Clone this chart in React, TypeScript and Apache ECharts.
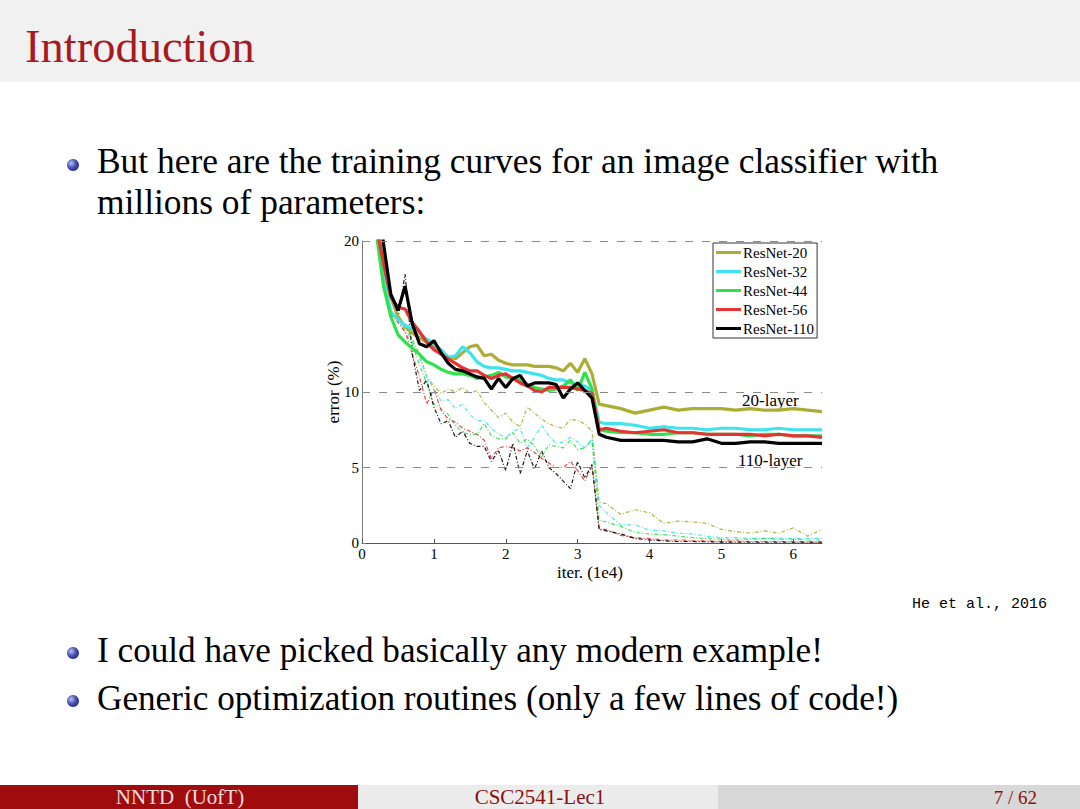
import React, { useEffect, useRef } from "react";
import * as echarts from "echarts";

// iterations (1e4)
const iters = [
  0.1, 0.2, 0.3, 0.4, 0.5, 0.6, 0.7, 0.8, 0.9, 1.0,
  1.1, 1.2, 1.3, 1.4, 1.5, 1.6, 1.7, 1.8, 1.9, 2.0,
  2.1, 2.2, 2.3, 2.4, 2.5, 2.6, 2.7, 2.8, 2.9, 3.0,
  3.1, 3.2, 3.3,
  3.4, 3.6, 3.8, 4.0, 4.2, 4.4, 4.6, 4.8, 5.0, 5.2, 5.4, 5.6, 5.8, 6.0, 6.2, 6.4,
];

// test error (%) — thick solid lines
const testR20 = [
  28, 21.5, 18.3, 16.3, 15.0, 14.3, 13.9, 13.6, 13.3, 13.1,
  12.7, 12.3, 12.2, 12.6, 13.0, 13.1, 12.4, 12.5, 12.1, 11.9,
  11.8, 11.8, 11.8, 11.7, 11.7, 11.7, 11.6, 11.4, 11.9, 11.3,
  12.2, 11.2, 9.2,
  9.1, 8.9, 8.6, 8.8, 9.0, 8.8, 8.9, 8.9, 8.9, 8.8, 8.9, 8.8, 8.8, 8.9, 8.8, 8.7,
];
const testR32 = [
  27, 21, 17.5, 15.3, 14.8, 14.4, 14.2, 13.9, 13.5, 13.2,
  12.8, 12.3, 12.4, 13.0, 12.6, 12.0, 11.7, 11.6, 11.6, 11.5,
  11.4, 11.4, 11.3, 11.2, 11.1, 10.9, 10.8, 10.8, 10.6, 10.5,
  10.4, 10.1, 8.0,
  7.9, 7.9, 7.8, 7.6, 7.7, 7.6, 7.6, 7.5, 7.6, 7.6, 7.5, 7.5, 7.6, 7.5, 7.5, 7.5,
];
const testR44 = [
  26, 20.5, 17.0, 15.0, 13.8, 13.3, 12.9, 12.5, 12.0, 11.8,
  11.5, 11.3, 11.2, 11.2, 11.1, 10.9, 11.0, 11.1, 11.3, 11.0,
  10.9, 10.8, 10.5, 10.3, 10.2, 10.1, 10.2, 10.4, 10.8, 10.1,
  11.3, 10.2, 7.5,
  7.4, 7.3, 7.3, 7.2, 7.2, 7.3, 7.3, 7.2, 7.2, 7.2, 7.1, 7.2, 7.2, 7.1, 7.1, 7.1,
];
const testR56 = [
  27, 21, 18.5, 16.3, 15.6, 15.5, 14.6, 14.0, 13.3, 12.8,
  12.5, 12.2, 11.9, 11.6, 11.4, 11.4, 11.1, 10.9, 11.1, 11.2,
  10.9, 10.6, 10.4, 10.1, 10.0, 10.3, 10.3, 10.3, 10.3, 10.2,
  10.1, 9.9, 7.5,
  7.6, 7.4, 7.3, 7.4, 7.5, 7.3, 7.3, 7.2, 7.2, 7.2, 7.2, 7.1, 7.2, 7.1, 7.1, 7.0,
];
const testR110 = [
  30, 24, 19.8, 16.5, 15.4, 17.0, 14.5, 13.2, 13.0, 13.4,
  12.6, 11.9, 11.5, 11.4, 11.2, 11.0, 10.9, 10.2, 10.9, 10.3,
  10.9, 11.1, 10.4, 10.6, 10.6, 10.6, 10.5, 9.6, 10.2, 10.6,
  10.1, 9.6, 7.2,
  7.0, 6.8, 6.8, 6.8, 6.8, 6.7, 6.7, 6.9, 6.6, 6.6, 6.7, 6.7, 6.6, 6.6, 6.6, 6.6,
];

// training error (%) — thin dash-dot lines
const trainR20 = [
  30, 22, 17.5, 15.2, 15.0, 14.5, 13.5, 12.5, 11.0, 10.4,
  9.9, 10.2, 10.0, 10.3, 9.9, 10.1, 9.3, 8.8, 8.3, 8.6,
  8.0, 7.7, 9.0, 8.6, 8.2, 7.9, 7.7, 7.6, 8.2, 8.1,
  7.9, 7.4, 2.7,
  2.6, 1.9, 2.2, 2.0, 1.3, 1.45, 1.4, 1.3, 0.9, 0.75, 0.65, 0.8, 0.65, 1.0, 0.45, 0.9,
];
const trainR32 = [
  30, 22, 17.5, 15.2, 15.0, 14.2, 13.4, 12.3, 11.0, 10.2,
  9.4, 9.5, 8.9, 9.2, 8.5, 8.1, 8.1, 7.6, 7.2, 7.0,
  7.4, 7.6, 6.3, 7.0, 7.8, 7.1, 6.6, 6.7, 7.0, 6.7,
  6.3, 6.9, 2.5,
  2.0, 1.2, 1.2, 0.85, 0.8, 0.65, 0.6, 0.45, 0.35, 0.35, 0.3, 0.3, 0.3, 0.3, 0.3, 0.3,
];
const trainR44 = [
  30, 22, 17.5, 15.2, 14.8, 13.9, 13.2, 11.8, 10.6, 9.2,
  8.9, 8.5, 7.8, 7.3, 7.2, 7.2, 7.9, 7.1, 6.9, 6.9,
  7.3, 6.6, 6.9, 6.4, 5.7, 6.5, 6.4, 6.3, 6.8, 6.2,
  6.3, 6.8, 1.5,
  1.4, 1.1, 0.7, 0.6, 0.55, 0.45, 0.35, 0.3, 0.25, 0.25, 0.25, 0.3, 0.25, 0.25, 0.2, 0.2,
];
const trainR56 = [
  30, 22, 17.5, 15.2, 14.6, 14.0, 12.5, 11.0, 9.2, 10.2,
  8.8, 8.2, 8.0, 7.6, 7.4, 7.2, 6.8, 5.6, 6.3, 6.4,
  6.3, 6.1, 6.3, 6.0, 5.6, 5.3, 5.0, 5.0, 5.4, 4.8,
  4.1, 5.1, 0.9,
  0.9, 0.5, 0.35, 0.3, 0.2, 0.2, 0.15, 0.15, 0.1, 0.15, 0.1, 0.1, 0.1, 0.1, 0.08, 0.08,
];
const trainR110 = [
  30, 22, 17.5, 15.2, 14.8, 17.8, 12.5, 10.1, 10.8, 9.0,
  7.9, 8.1, 7.0, 7.4, 6.6, 6.4, 6.4, 5.4, 6.1, 4.8,
  6.6, 4.6, 6.1, 4.9, 6.1, 5.0, 4.6, 4.1, 3.6, 5.4,
  4.3, 5.2, 0.9,
  0.8, 0.6, 0.3, 0.2, 0.15, 0.1, 0.1, 0.08, 0.06, 0.06, 0.05, 0.05, 0.05, 0.05, 0.05, 0.05,
];

const seriesNames = ["ResNet-20", "ResNet-32", "ResNet-44", "ResNet-56", "ResNet-110"];
const seriesColors = ["#adad36", "#3ce4f0", "#2ee24c", "#e63232", "#000000"];
const testData = [testR20, testR32, testR44, testR56, testR110];
const trainData = [trainR20, trainR32, trainR44, trainR56, trainR110];

const xTicks = [0, 1, 2, 3, 4, 5, 6];
const yTicks = [0, 5, 10, 20];
const gridLevels = [5, 10, 20];

const SERIF = '"Liberation Serif", "Times New Roman", serif';

const pairs = (ys: number[]) => iters.map((x, i) => [x, ys[i]]);

function bullet(cx: number, cy: number) {
  return {
    type: "circle",
    shape: { cx, cy, r: 6 },
    style: {
      fill: {
        type: "radial",
        x: 0.35,
        y: 0.35,
        r: 0.75,
        colorStops: [
          { offset: 0, color: "#b8c0f0" },
          { offset: 0.5, color: "#4a56b8" },
          { offset: 1, color: "#1a2370" },
        ],
      },
    },
  };
}

function txt(text: string, x: number, y: number, size: number, fill: string, align = "left", family = SERIF, extra: any = {}) {
  return {
    type: "text",
    x,
    y,
    ...extra,
    style: {
      text,
      x: 0,
      y: 0,
      fill,
      fontSize: size,
      fontFamily: family,
      align,
      verticalAlign: "middle",
    },
  };
}

export default function App() {
  const ref = useRef<HTMLDivElement>(null);
  useEffect(() => {
    const chart = echarts.init(ref.current!, null, { renderer: "svg" });

    const series: any[] = [];
    trainData.forEach((d, i) => {
      series.push({
        name: seriesNames[i] + " (train)",
        type: "line",
        data: pairs(d),
        showSymbol: false,
        symbol: "none",
        silent: true,
        z: 2,
        lineStyle: { width: 1.2, color: seriesColors[i], type: [4, 2, 1, 2], opacity: 0.9 },
        itemStyle: { color: seriesColors[i] },
        ...(i === 0
          ? {
              markLine: {
                silent: true,
                symbol: "none",
                label: { show: false },
                lineStyle: { type: [8, 9], color: "#8a8a8a", width: 1 },
                data: gridLevels.map((v) => ({ yAxis: v })),
              },
            }
          : {}),
      });
    });
    testData.forEach((d, i) => {
      series.push({
        name: seriesNames[i],
        type: "line",
        data: pairs(d),
        showSymbol: false,
        symbol: "none",
        silent: true,
        z: 3,
        lineStyle: { width: 3.2, color: seriesColors[i] },
        itemStyle: { color: seriesColors[i] },
      });
    });

    const option: any = {
      animation: false,
      backgroundColor: "#ffffff",
      grid: { left: 362, top: 241, width: 460, height: 302, containLabel: false },
      xAxis: {
        type: "value",
        min: 0,
        max: 6.4,
        interval: 1,
        axisLine: { show: true, lineStyle: { color: "#555555", width: 1 } },
        axisTick: { show: true, inside: true, length: 4, customValues: xTicks, lineStyle: { color: "#555555" } },
        axisLabel: {
          customValues: xTicks,
          formatter: (v: number) => (Number.isInteger(v) ? String(v) : ""),
          fontFamily: SERIF,
          fontSize: 15,
          color: "#000",
          margin: 3,
        },
        splitLine: { show: false },
      },
      yAxis: {
        type: "value",
        min: 0,
        max: 20,
        interval: 5,
        axisLine: { show: true, lineStyle: { color: "#7a7a7a", width: 1 } },
        axisTick: { show: true, inside: true, length: 4, customValues: yTicks, lineStyle: { color: "#7a7a7a" } },
        axisLabel: {
          customValues: yTicks,
          formatter: (v: number) => (yTicks.indexOf(v) >= 0 ? String(v) : ""),
          fontFamily: SERIF,
          fontSize: 15,
          color: "#000",
          margin: 3,
        },
        splitLine: { show: false },
      },
      legend: {
        data: seriesNames,
        orient: "vertical",
        left: 713,
        top: 243,
        icon: "rect",
        itemWidth: 25,
        itemHeight: 3,
        itemGap: 4,
        padding: [2, 3, 2, 3],
        backgroundColor: "#ffffff",
        borderColor: "#333333",
        borderWidth: 1,
        borderRadius: 0,
        selectedMode: false,
        textStyle: { fontFamily: SERIF, fontSize: 15, lineHeight: 15, color: "#000", padding: [0, 0, 0, -3] },
      },
      graphic: [
        // header band
        { type: "rect", shape: { x: 0, y: 0, width: 1080, height: 82 }, style: { fill: "#f1f1f1" }, z: -10 },
        txt("Introduction", 25, 46, 46.5, "#a81a1f"),
        // bullets
        bullet(73, 165),
        txt("But here are the training curves for an image classifier with", 97, 161, 35.4, "#000"),
        txt("millions of parameters:", 97, 202, 35.4, "#000"),
        bullet(73, 653),
        txt("I could have picked basically any modern example!", 97, 650, 35.2, "#000"),
        bullet(73, 701),
        txt("Generic optimization routines (only a few lines of code!)", 97, 698, 35.2, "#000"),
        // citation
        txt("He et al., 2016", 1047, 604, 15, "#000", "right", '"Liberation Mono", monospace'),
        // chart texts
        txt("20-layer", 742, 400, 17, "#000"),
        txt("110-layer", 738, 460, 17, "#000"),
        txt("iter. (1e4)", 590, 572, 17, "#000", "center"),
        txt("error (%)", 333, 392, 17, "#000", "center", SERIF, { rotation: Math.PI / 2 }),
        // footer
        { type: "rect", shape: { x: 0, y: 785, width: 358, height: 24 }, style: { fill: "#a00b0e" } },
        { type: "rect", shape: { x: 358, y: 785, width: 360, height: 24 }, style: { fill: "#ececec" } },
        { type: "rect", shape: { x: 718, y: 785, width: 362, height: 24 }, style: { fill: "#d8d8d8" } },
        txt("NNTD  (UofT)", 180, 797, 21, "#f3dede", "center"),
        txt("CSC2541-Lec1", 540, 797, 21, "#8b1010", "center"),
        txt("7 / 62", 1037, 797, 19, "#8b1010", "right"),
      ],
      series,
    };
    chart.setOption(option);
    return () => chart.dispose();
  }, []);
  return <div ref={ref} style={{ position: "absolute", left: 0, top: 0, width: 1080, height: 809 }} />;
}
